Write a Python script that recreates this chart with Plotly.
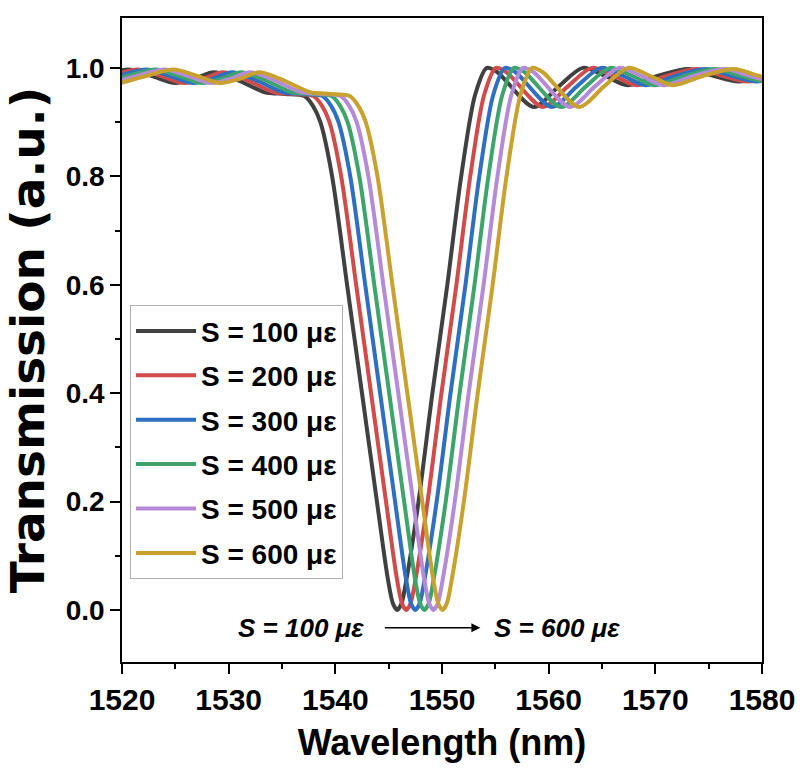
import plotly.graph_objects as go

# ---- data ----
series_names = ["S = 100 με", "S = 200 με", "S = 300 με",
                "S = 400 με", "S = 500 με", "S = 600 με"]
series_colors = ["#404040", "#d24b4b", "#2f6fc2", "#3da56c", "#b58ad9", "#c9a12e"]
# wavelength of the transmission dip for each strain (nm)
dip_nm = [1545.8, 1546.65, 1547.5, 1548.35, 1549.2, 1550.05]
# common spectral profile, read relative to each dip (nm) and its transmission
offset_nm = [-30.2, -27.8, -25.2, -23.0, -20.8, -19.0, -17.2, -15.0, -12.4, -10.5,
             -8.7, -7.9, -7.2, -6.1, -4.7, -3.3, -1.9, -0.9, -0.4, 0.0,
             0.4, 0.9, 2.0, 3.3, 4.7, 6.0, 7.3, 8.4, 9.4, 12.8,
             15.1, 17.4, 19.5, 21.6, 24.4, 27.3, 29.7, 32.0, 34.7]
transmission = [0.972, 0.985, 0.997, 0.985, 0.972, 0.980, 0.992, 0.978, 0.955, 0.952,
                0.948, 0.930, 0.900, 0.800, 0.600, 0.400, 0.200, 0.060, 0.012, 0.0,
                0.012, 0.060, 0.200, 0.400, 0.600, 0.800, 0.950, 1.000, 0.992, 0.928,
                0.965, 1.000, 0.985, 0.968, 0.985, 0.998, 0.985, 0.975, 0.985]

x_ticks = [1520, 1530, 1540, 1550, 1560, 1570, 1580]
y_ticks = [0.0, 0.2, 0.4, 0.6, 0.8, 1.0]

SANS = "Liberation Sans, Arial, sans-serif"

fig = go.Figure()
for i, (name, col, dip) in enumerate(zip(series_names, series_colors, dip_nm)):
    fig.add_trace(go.Scatter(
        x=[dip + o for o in offset_nm], y=transmission,
        mode="lines", name=f"<b>{name}</b>", legendgroup=f"g{i}",
        line=dict(color=col, width=4, shape="spline", smoothing=0.8),
    ))

fig.add_annotation(x=1553.6, y=-0.033, ax=1544.5, ay=-0.033,
                   xref="x", yref="y", axref="x", ayref="y",
                   text="", showarrow=True, arrowhead=2, arrowsize=1.2,
                   arrowwidth=1.5, arrowcolor="black")
fig.add_annotation(x=1536.8, y=-0.033, xref="x", yref="y", showarrow=False,
                   text="<b><i>S = 100 με</i></b>",
                   font=dict(family=SANS, size=26, color="black"))
fig.add_annotation(x=1560.8, y=-0.033, xref="x", yref="y", showarrow=False,
                   text="<b><i>S = 600 με</i></b>",
                   font=dict(family=SANS, size=26, color="black"))

fig.update_layout(
    width=800, height=784,
    margin=dict(l=122, r=38, t=18, b=122),
    paper_bgcolor="white", plot_bgcolor="white",
    showlegend=True,
    legend=dict(x=0.0125, y=0.554, xanchor="left", yanchor="top",
                bgcolor="white", bordercolor="#b0b0b0", borderwidth=1,
                font=dict(family=SANS, size=28, color="black"),
                itemwidth=60, tracegroupgap=5),
)
fig.update_xaxes(
    range=[1520, 1580], tickvals=x_ticks, ticktext=[f"<b>{v}</b>" for v in x_ticks],
    automargin=False, ticklabeloverflow="allow",
    showline=True, linecolor="black", linewidth=1.5, mirror=True,
    ticks="outside", ticklen=10, tickwidth=1.5, tickcolor="black",
    minor=dict(dtick=5, ticks="outside", ticklen=5, tickwidth=1.5, tickcolor="black"),
    showgrid=False, zeroline=False,
    tickfont=dict(family=SANS, size=30, color="black"),
    title=dict(text="<b>Wavelength (nm)</b>",
               font=dict(family=SANS, size=36, color="black")),
)
fig.update_yaxes(
    range=[-0.096, 1.092], tickvals=y_ticks, ticktext=[f"<b>{v:.1f}</b>" for v in y_ticks],
    automargin=True,
    showline=True, linecolor="black", linewidth=1.5, mirror=True,
    ticks="outside", ticklen=10, tickwidth=1.5, tickcolor="black",
    minor=dict(dtick=0.1, tick0=0, ticks="outside", ticklen=5, tickwidth=1.5, tickcolor="black"),
    showgrid=False, zeroline=False,
    tickfont=dict(family=SANS, size=28, color="black"),
    title=dict(text="<b>Transmission (a.u.)</b>", standoff=20,
               font=dict(family="DejaVu Sans, sans-serif", size=47, color="black")),
)

# remove the page's default 8 px body margin so the figure fills the window
fig.write_html("out.html", config={"displayModeBar": False},
               post_script="document.body.style.margin='0px';")
